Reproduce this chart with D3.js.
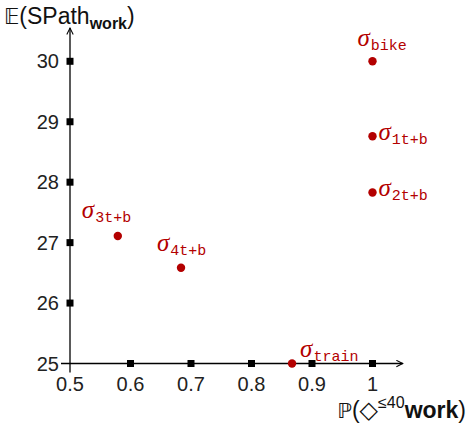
<!DOCTYPE html>
<html>
<head>
<meta charset="utf-8">
<script src="https://cdn.jsdelivr.net/npm/d3@7"></script>
<style>
  body { margin: 0; background: #fff; }
  text { font-family: "Liberation Sans", Arial, sans-serif; }
</style>
</head>
<body>
<svg id="chart" width="468" height="425"></svg>
<script>
// strategies: name, probability, expected path length
const names = ['bike', '1t+b', '2t+b', '3t+b', '4t+b', 'train'];
const probs = [1, 1, 1, 0.579, 0.6835, 0.867];
const costs = [30, 28.76, 27.83, 27.11, 26.585, 25];
// label placement relative to the dot
const labelPos = ['above', 'right', 'right', 'aboveleft', 'above', 'aboveright'];

const xTicks = [0.5, 0.6, 0.7, 0.8, 0.9, 1];
const yTicks = [25, 26, 27, 28, 29, 30];

const svg = d3.select('#chart');
const red = '#b30000';

const x = d3.scaleLinear().domain([0.5, 1]).range([70, 372.5]);
const y = d3.scaleLinear().domain([25, 30]).range([363.5, 61.3]);

svg.append('defs').append('marker')
  .attr('id', 'arrow')
  .attr('viewBox', '0 0 10 10')
  .attr('refX', 9).attr('refY', 5)
  .attr('markerWidth', 8).attr('markerHeight', 8)
  .attr('markerUnits', 'userSpaceOnUse')
  .attr('orient', 'auto')
  .append('path')
  .attr('d', 'M1,1 L9,5 L1,9')
  .attr('fill', 'none')
  .attr('stroke', '#000')
  .attr('stroke-width', 1.3);

// axes
svg.append('line')
  .attr('x1', x(0.5) - 9).attr('x2', x(1.05))
  .attr('y1', y(25)).attr('y2', y(25))
  .attr('stroke', '#000').attr('stroke-width', 1.3)
  .attr('marker-end', 'url(#arrow)');

svg.append('line')
  .attr('x1', x(0.5)).attr('x2', x(0.5))
  .attr('y1', y(25) + 9).attr('y2', y(30.55))
  .attr('stroke', '#000').attr('stroke-width', 1.3)
  .attr('marker-end', 'url(#arrow)');

// square ticks
const sq = 7;
svg.selectAll('.xt')
  .data(xTicks.filter(d => d !== 0.5))
  .enter().append('rect')
  .attr('x', d => x(d) - sq / 2)
  .attr('y', y(25) - sq / 2)
  .attr('width', sq).attr('height', sq)
  .attr('fill', '#000');

svg.selectAll('.yt')
  .data(yTicks.filter(d => d !== 25))
  .enter().append('rect')
  .attr('x', x(0.5) - sq / 2)
  .attr('y', d => y(d) - sq / 2)
  .attr('width', sq).attr('height', sq)
  .attr('fill', '#000');

// tick labels
svg.selectAll('.xl')
  .data(xTicks)
  .enter().append('text')
  .attr('x', d => x(d))
  .attr('y', 391)
  .attr('text-anchor', 'middle')
  .attr('font-size', 20)
  .attr('fill', '#222')
  .text(d => d3.format('~g')(d));

svg.selectAll('.yl')
  .data(yTicks)
  .enter().append('text')
  .attr('x', 59)
  .attr('y', d => y(d) + 7)
  .attr('text-anchor', 'end')
  .attr('font-size', 20)
  .attr('fill', '#222')
  .text(d => d);

// axis titles
const yt = svg.append('text')
  .attr('x', 4).attr('y', 24)
  .attr('font-size', 23)
  .attr('fill', '#111');
yt.append('tspan').attr('font-family', 'DejaVu Sans').attr('font-size', 21).text('𝔼');
yt.append('tspan').text('(SPath');
yt.append('tspan').attr('font-size', 16).attr('font-weight', 'bold').attr('dy', 5).text('work');
yt.append('tspan').attr('dy', -5).text(')');

const xt = svg.append('text')
  .attr('x', 466).attr('y', 418)
  .attr('text-anchor', 'end')
  .attr('font-size', 23)
  .attr('fill', '#111');
xt.append('tspan').attr('font-family', 'DejaVu Sans').attr('font-size', 21).text('ℙ');
xt.append('tspan').text('(');
xt.append('tspan').attr('font-family', 'DejaVu Sans').attr('font-size', 24).text('◇');
xt.append('tspan').attr('font-size', 16).attr('dy', -10).text('≤40');
xt.append('tspan').attr('dy', 10).attr('font-weight', 'bold').text('work');
xt.append('tspan').text(')');

// points
const pts = names.map((n, i) => ({ name: n, p: probs[i], c: costs[i], pos: labelPos[i] }));

svg.selectAll('.pt')
  .data(pts)
  .enter().append('circle')
  .attr('cx', d => x(d.p))
  .attr('cy', d => y(d.c))
  .attr('r', 4.2)
  .attr('fill', red);

const off = {
  above: [-15, -15],
  right: [6, 4],
  aboveleft: [-36, -18],
  aboveright: [8, -7],
};
// 4t+b sits centred above its dot
const offFor = d => d.name === '4t+b' ? [-24, -17] : off[d.pos];

const lbl = svg.selectAll('.lbl')
  .data(pts)
  .enter().append('text')
  .attr('x', d => x(d.p) + offFor(d)[0])
  .attr('y', d => y(d.c) + offFor(d)[1])
  .attr('fill', red);

lbl.append('tspan')
  .attr('font-family', '"Liberation Serif", serif')
  .attr('font-style', 'italic')
  .attr('font-size', 25)
  .text('σ');
lbl.append('tspan')
  .attr('font-family', '"Liberation Mono", monospace')
  .attr('font-size', 15)
  .attr('dx', 1)
  .attr('dy', 4)
  .text(d => d.name);
</script>
</body>
</html>
